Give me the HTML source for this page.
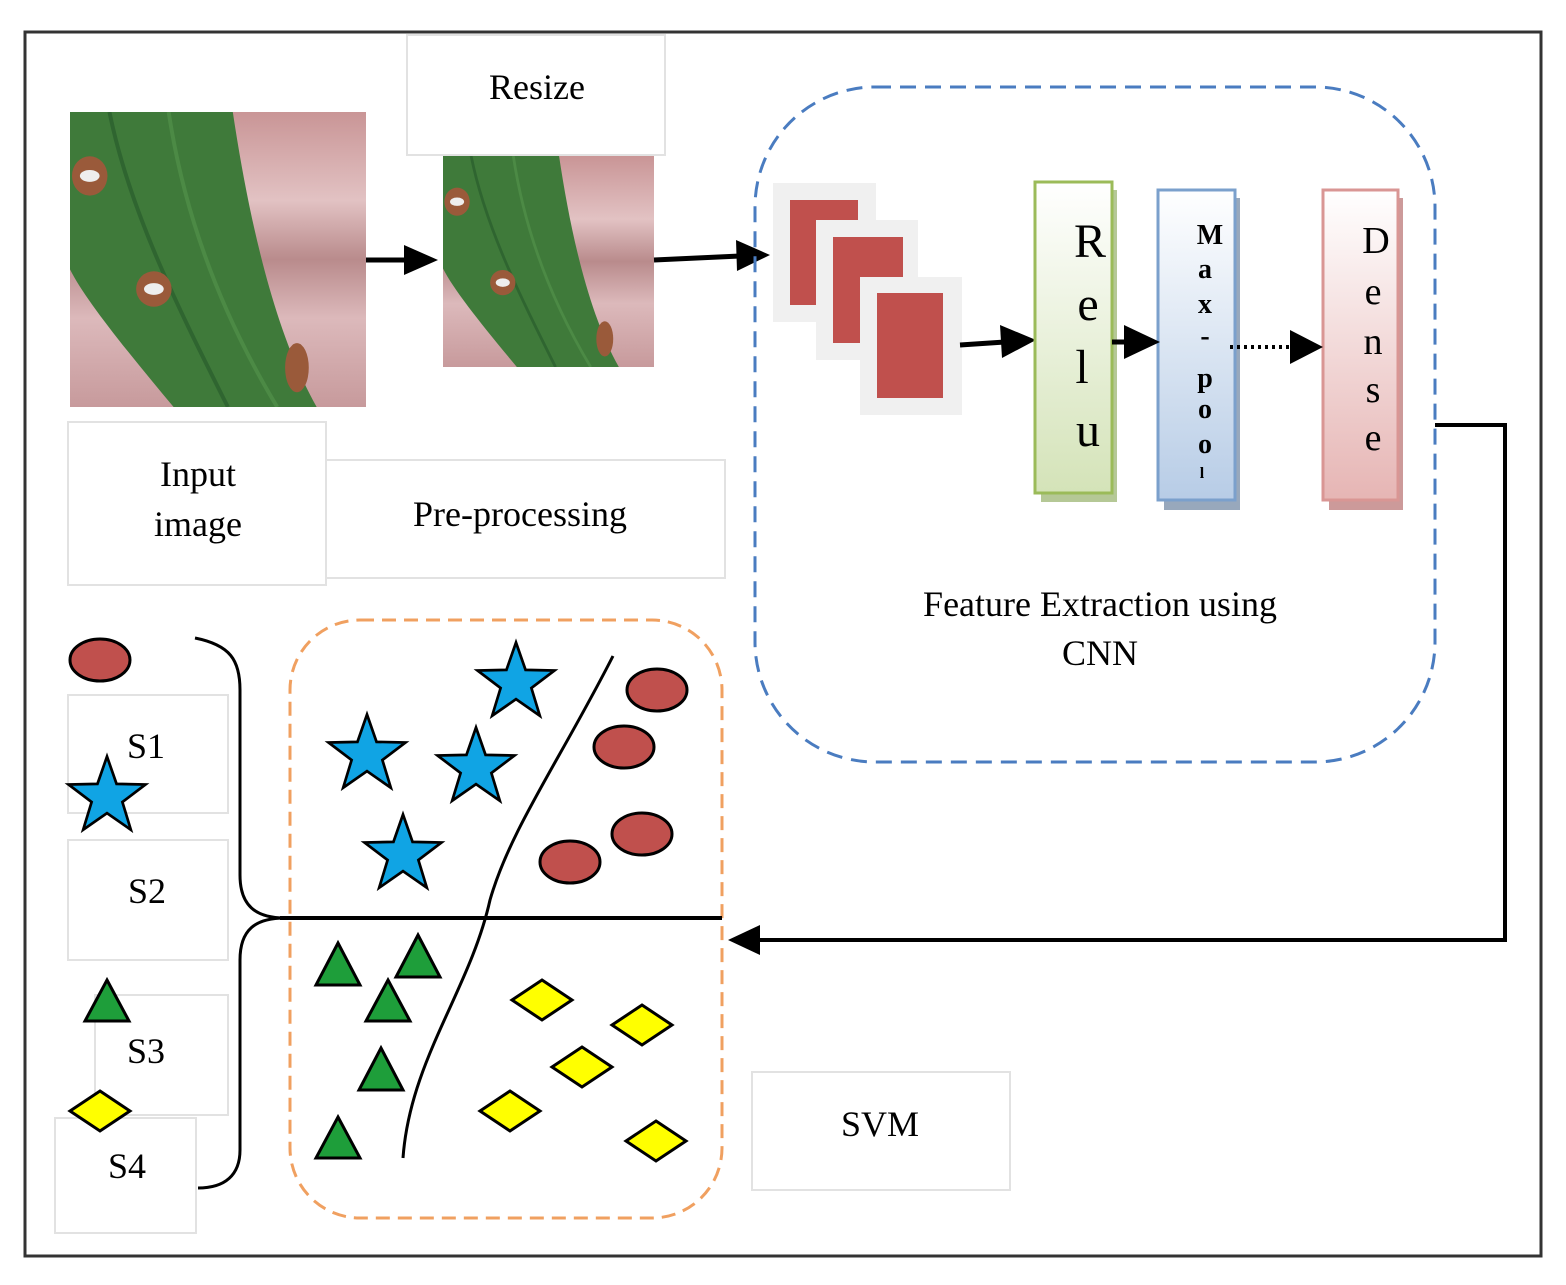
<!DOCTYPE html>
<html><head><meta charset="utf-8"><style>html,body{margin:0;padding:0;background:#fff}svg{display:block}</style></head>
<body>
<svg width="1566" height="1285" viewBox="0 0 1566 1285" xmlns="http://www.w3.org/2000/svg" font-family="Liberation Serif, serif">
<defs>
<linearGradient id="gg" x1="0" y1="0" x2="0" y2="1"><stop offset="0" stop-color="#fff"/><stop offset="1" stop-color="#d4e3b8"/></linearGradient>
<linearGradient id="gb" x1="0" y1="0" x2="0" y2="1"><stop offset="0" stop-color="#fff"/><stop offset="1" stop-color="#b7cce6"/></linearGradient>
<linearGradient id="gr" x1="0" y1="0" x2="0" y2="1"><stop offset="0" stop-color="#fff"/><stop offset="1" stop-color="#e6b5b4"/></linearGradient>
<linearGradient id="pk" x1="0" y1="0" x2="0" y2="1"><stop offset="0" stop-color="#c99596"/><stop offset=".3" stop-color="#e2c2c3"/><stop offset=".5" stop-color="#b98b8c"/><stop offset=".7" stop-color="#dcb9bb"/><stop offset="1" stop-color="#c79a9c"/></linearGradient>
<symbol id="leaf" viewBox="0 0 300 300" preserveAspectRatio="none">
<rect width="300" height="300" fill="url(#pk)"/>
<path d="M0,0 L165,0 C180,100 205,220 250,300 L105,300 C55,240 15,190 0,160 Z" fill="#3f7a3a"/>
<path d="M40,0 C60,100 110,200 160,300" stroke="#2f6530" stroke-width="4" fill="none"/>
<path d="M100,0 C115,100 150,200 210,300" stroke="#4c8a45" stroke-width="4" fill="none"/>
<ellipse cx="20" cy="65" rx="18" ry="20" fill="#9a5a3a"/><ellipse cx="20" cy="65" rx="10" ry="6" fill="#eee"/>
<ellipse cx="85" cy="180" rx="18" ry="18" fill="#9a5a3a"/><ellipse cx="85" cy="180" rx="10" ry="6" fill="#eee"/>
<ellipse cx="230" cy="260" rx="12" ry="25" fill="#9a5a3a"/>
</symbol>
<symbol id="star" viewBox="-50 -50 100 100"><polygon points="0,-45 10.6,-14.6 42.8,-13.9 17.1,5.6 26.5,36.4 0,18 -26.5,36.4 -17.1,5.6 -42.8,-13.9 -10.6,-14.6" fill="#10a4e4" stroke="#000" stroke-width="3"/></symbol>
</defs>
<rect x="25" y="32" width="1516" height="1224" fill="#fff" stroke="#333" stroke-width="3"/>

<g fill="#fff" stroke="#e2e2e2" stroke-width="2">
<rect x="407" y="35" width="258" height="120"/>
<rect x="68" y="422" width="258" height="163"/>
<rect x="326" y="460" width="399" height="118"/>
<rect x="68" y="695" width="160" height="118"/>
<rect x="68" y="840" width="160" height="120"/>
<rect x="95" y="995" width="133" height="120"/>
<rect x="55" y="1118" width="141" height="115"/>
<rect x="752" y="1072" width="258" height="118"/>
</g>
<g font-size="36" text-anchor="middle" fill="#000">
<text x="537" y="99">Resize</text>
<text x="198" y="486">Input</text>
<text x="198" y="536">image</text>
<text x="520" y="526">Pre-processing</text>
<text x="1100" y="616">Feature Extraction using</text>
<text x="1100" y="665">CNN</text>
<text x="146" y="758">S1</text>
<text x="147" y="903">S2</text>
<text x="146" y="1063">S3</text>
<text x="127" y="1178">S4</text>
<text x="880" y="1136">SVM</text>
</g>

<use href="#leaf" x="70" y="112" width="296" height="295"/>
<use href="#leaf" x="443" y="156" width="211" height="211"/>
<line x1="366" y1="260" x2="410" y2="260" stroke="#000" stroke-width="5"/>
<path d="M404,245 L438,260 L404,275z" fill="#000"/>
<line x1="654" y1="260" x2="740" y2="256" stroke="#000" stroke-width="5"/>
<path d="M736,240 L770,255 L737,271z" fill="#000"/>

<rect x="755" y="87" width="680" height="675" rx="120" fill="none" stroke="#4a7cc0" stroke-width="3" stroke-dasharray="16 9"/>
<rect x="773" y="183" width="103" height="139" fill="#f0f0f0"/>
<rect x="790" y="200" width="68" height="105" fill="#c0504d"/>
<rect x="816" y="220" width="102" height="140" fill="#f0f0f0"/>
<rect x="833" y="237" width="70" height="106" fill="#c0504d"/>
<rect x="860" y="277" width="102" height="138" fill="#f0f0f0"/>
<rect x="877" y="293" width="66" height="105" fill="#c0504d"/>
<line x1="960" y1="345" x2="1005" y2="342" stroke="#000" stroke-width="5"/>
<path d="M1000,325 L1036,340 L1002,358z" fill="#000"/>

<rect x="1041" y="190" width="76" height="312" fill="#b5c896"/>
<rect x="1035" y="182" width="77" height="311" fill="url(#gg)" stroke="#9bbb59" stroke-width="3"/>
<rect x="1164" y="198" width="76" height="312" fill="#98a8bc"/>
<rect x="1158" y="190" width="77" height="310" fill="url(#gb)" stroke="#7ba0cc" stroke-width="3"/>
<rect x="1329" y="198" width="74" height="312" fill="#cc9a9a"/>
<rect x="1323" y="190" width="75" height="310" fill="url(#gr)" stroke="#d99694" stroke-width="3"/>
<g text-anchor="middle" fill="#000">
<g font-size="48"><text x="1090" y="257">R</text><text x="1088" y="320">e</text><text x="1082" y="383">l</text><text x="1088" y="446">u</text></g>
<g font-size="28" font-weight="bold"><text x="1210" y="244">M</text><text x="1205" y="278">a</text><text x="1205" y="313">x</text><text x="1205" y="345">-</text><text x="1205" y="387">p</text><text x="1205" y="418">o</text><text x="1205" y="453">o</text><text x="1202" y="478" font-size="16">l</text></g>
<g font-size="38"><text x="1376" y="253">D</text><text x="1373" y="304">e</text><text x="1373" y="354">n</text><text x="1373" y="402">s</text><text x="1373" y="450">e</text></g>
</g>
<line x1="1112" y1="342" x2="1130" y2="342" stroke="#000" stroke-width="5"/>
<path d="M1124,325 L1160,342 L1124,359z" fill="#000"/>
<line x1="1230" y1="347" x2="1295" y2="347" stroke="#000" stroke-width="4" stroke-dasharray="3 4"/>
<path d="M1290,330 L1323,347 L1290,364z" fill="#000"/>

<polyline points="1435,425 1505,425 1505,940 740,940" fill="none" stroke="#000" stroke-width="4"/>
<path d="M760,925 L728,940 L760,955z" fill="#000"/>

<rect x="290" y="620" width="432" height="598" rx="70" fill="none" stroke="#f0a060" stroke-width="3" stroke-dasharray="14 8"/>
<line x1="280" y1="918" x2="722" y2="918" stroke="#000" stroke-width="4"/>
<path d="M195,638 C230,645 240,660 240,690 L240,875 C240,905 255,918 285,918 C255,918 240,930 240,960 L240,1150 C240,1175 225,1188 198,1188" fill="none" stroke="#000" stroke-width="3"/>
<path d="M613,656 C560,760 510,830 490,900 C470,990 410,1060 403,1158" fill="none" stroke="#000" stroke-width="3"/>

<g>
<use href="#star" x="471" y="638" width="90" height="90"/>
<use href="#star" x="322" y="710" width="90" height="90"/>
<use href="#star" x="431" y="723" width="90" height="90"/>
<use href="#star" x="358" y="810" width="90" height="90"/>
<use href="#star" x="62" y="752" width="90" height="90"/>
</g>
<g fill="#c0504d" stroke="#000" stroke-width="3">
<ellipse cx="100" cy="660" rx="30" ry="21"/>
<ellipse cx="657" cy="690" rx="30" ry="21"/>
<ellipse cx="624" cy="747" rx="30" ry="21"/>
<ellipse cx="642" cy="834" rx="30" ry="21"/>
<ellipse cx="570" cy="862" rx="30" ry="21"/>
</g>
<g fill="#1e9e3a" stroke="#000" stroke-width="3">
<polygon points="338,943 360,985 316,985"/>
<polygon points="418,935 440,977 396,977"/>
<polygon points="388,980 410,1021 366,1021"/>
<polygon points="381,1048 403,1090 359,1090"/>
<polygon points="338,1117 360,1158 316,1158"/>
<polygon points="107,980 129,1021 85,1021"/>
</g>
<g fill="#ffff00" stroke="#000" stroke-width="3">
<polygon points="542,980 572,1000 542,1020 512,1000"/>
<polygon points="642,1005 672,1025 642,1045 612,1025"/>
<polygon points="582,1047 612,1067 582,1087 552,1067"/>
<polygon points="510,1091 540,1111 510,1131 480,1111"/>
<polygon points="656,1121 686,1141 656,1161 626,1141"/>
<polygon points="100,1091 130,1111 100,1131 70,1111"/>
</g>
</svg>
</body></html>
